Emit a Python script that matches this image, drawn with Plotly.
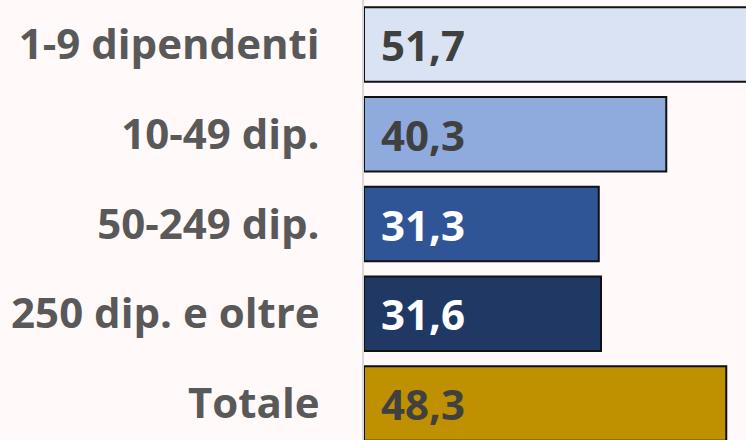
import plotly.graph_objects as go

categories = ["1-9 dipendenti", "10-49 dip.", "50-249 dip.", "250 dip. e oltre", "Totale"]
values = [51.7, 40.3, 31.3, 31.6, 48.3]
bar_colors = ["#DAE3F3", "#8FAADC", "#2F5597", "#203864", "#BF9000"]
label_colors = ["#404040", "#404040", "#FFFFFF", "#FFFFFF", "#404040"]

BG = "#FFFAF9"
FONT = "Open Sans"

fig = go.Figure()
fig.add_trace(go.Bar(
    y=categories,
    x=values,
    orientation="h",
    width=0.83,
    marker=dict(color=bar_colors, line=dict(color="#111111", width=2)),
    hoverinfo="skip",
    cliponaxis=True,
))

for cat, v, c in zip(categories, values, label_colors):
    fig.add_annotation(
        x=0, y=cat, xref="x", yref="y",
        text="<b>" + f"{v:.1f}".replace(".", ",") + "</b>",
        showarrow=False, xanchor="left", yanchor="middle", xshift=15,
        font=dict(family=FONT, size=42, color=c),
    )

# figure is a bit larger than the window so the longest bar and last bar run off the edge
fig.update_layout(
    width=764, height=462,
    margin=dict(l=364, r=0, t=0, b=0),
    paper_bgcolor=BG, plot_bgcolor=BG,
    showlegend=False,
)
fig.update_xaxes(range=[0, 53.33], visible=False, showgrid=False, zeroline=False)
fig.update_yaxes(
    range=[4.652, -0.496],
    showgrid=False, zeroline=False,
    showline=True, linecolor="#D9D9D9", linewidth=2,
    ticks="", ticklabelstandoff=34,
    tickfont=dict(family=FONT, size=42, color="#595959", weight="bold"),
)

fig.write_html(
    "out.html",
    config={"displayModeBar": False},
    post_script=(
        "document.body.style.margin='0';"
        "document.body.style.overflow='hidden';"
        "document.documentElement.style.overflow='hidden';"
        "document.body.style.background='" + BG + "';"
    ),
)
